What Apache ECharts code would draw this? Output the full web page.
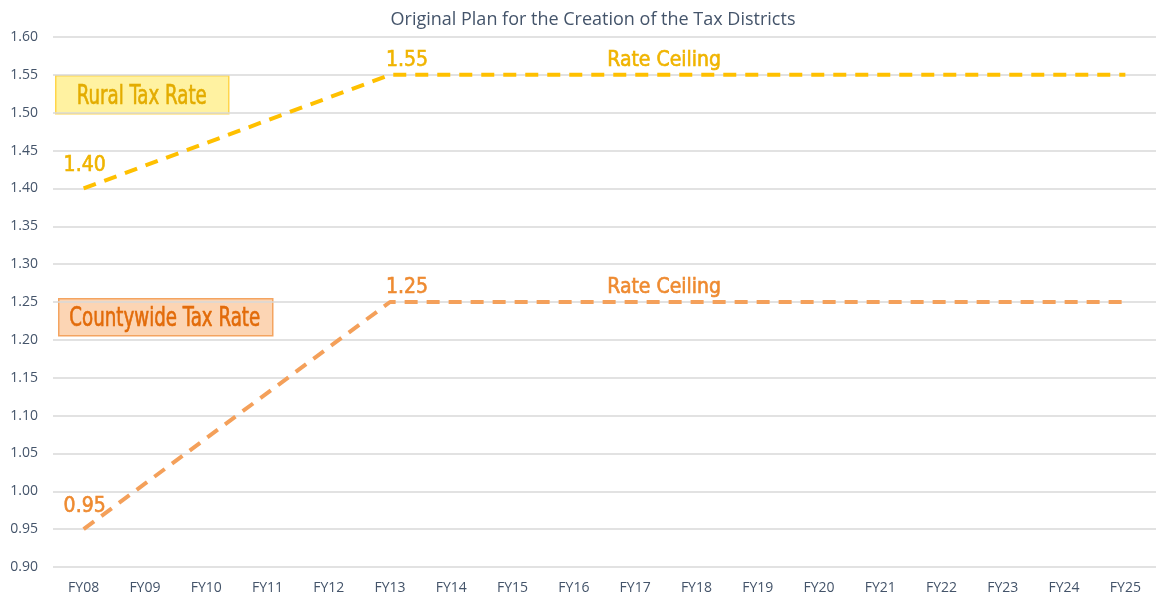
<!DOCTYPE html>
<html>
<head>
    <meta charset="utf-8">
    <title>Tax Districts</title>
    <script src="https://cdn.jsdelivr.net/npm/echarts@6/dist/echarts.min.js"></script>
</head>
<body style="margin:0;background:#fff;">
    <div id="main" style="width:1156px;height:597px;"></div>
    <script type="text/javascript">
        // categories + values
        var years = ['FY08','FY09','FY10','FY11','FY12','FY13','FY14','FY15','FY16','FY17','FY18','FY19','FY20','FY21','FY22','FY23','FY24','FY25'];
        var ruralRate = [1.40,1.43,1.46,1.49,1.52,1.55,1.55,1.55,1.55,1.55,1.55,1.55,1.55,1.55,1.55,1.55,1.55,1.55];
        var countyRate = [0.95,1.01,1.07,1.13,1.19,1.25,1.25,1.25,1.25,1.25,1.25,1.25,1.25,1.25,1.25,1.25,1.25,1.25];
        var ceilingIdx = 5;     // where rate reaches the ceiling
        var ceilingTextIdx = 9; // 'Rate Ceiling' text sits near here

        var narrow = '"Liberation Sans Narrow", "DejaVu Sans Condensed", "Roboto", sans-serif';

        // turn a values array into data items with a few labels switched on
        function withLabels(vals) {
            return vals.map(function (v, i) {
                var item = { value: v };
                if (i === 0) {
                    item.label = { show: true, position: 'top', distance: 12, offset: [1, 0] };
                } else if (i === ceilingIdx) {
                    item.label = { show: true, position: 'top', distance: 4, offset: [17, 0] };
                } else if (i === ceilingTextIdx) {
                    item.label = { show: true, position: 'top', distance: 4, offset: [29, 0], formatter: 'Rate Ceiling' };
                }
                return item;
            });
        }

        var myChart = echarts.init(document.getElementById('main'));

        var option = {
            backgroundColor: '#fff',
            animation: false,
            title: {
                text: 'Original Plan for the Creation of the Tax Districts',
                left: 588,
                textAlign: 'center',
                top: 6,
                textStyle: { color: '#44546A', fontSize: 18, fontWeight: 'normal', fontFamily: '"Open Sans", sans-serif' }
            },
            grid: { left: 53, top: 37, width: 1109, height: 530 },
            xAxis: {
                type: 'category',
                data: years,
                boundaryGap: true,
                axisLine: { show: false },
                axisTick: { show: false },
                axisLabel: { color: '#44546A', fontSize: 14, margin: 14, fontFamily: '"Open Sans", sans-serif' }
            },
            yAxis: {
                type: 'value',
                min: 0.90,
                max: 1.60,
                interval: 0.05,
                axisLabel: {
                    color: '#44546A', fontSize: 14, margin: 15, fontFamily: '"Open Sans", sans-serif',
                    formatter: function (v) { return v.toFixed(2); }
                },
                splitLine: { lineStyle: { color: '#D9D9D9', width: 1.5 } }
            },
            graphic: [
                {
                    type: 'group', left: 55, top: 75,
                    children: [
                        { type: 'rect', shape: { x: 0, y: 0, width: 173, height: 38 },
                          style: { fill: '#FFF2A1', stroke: '#FFD54A', lineWidth: 1.5 } },
                        { type: 'text', x: 86, y: 21, scaleX: 0.78,
                          style: { text: 'Rural Tax Rate', fill: '#E3AC00', font: '26px ' + narrow, align: 'center', verticalAlign: 'middle',
                                   stroke: '#E3AC00', lineWidth: 0.6 } }
                    ]
                },
                {
                    type: 'group', left: 58, top: 298,
                    children: [
                        { type: 'rect', shape: { x: 0, y: 0, width: 214, height: 37 },
                          style: { fill: '#FCD5B4', stroke: '#F4A460', lineWidth: 1.5 } },
                        { type: 'text', x: 106, y: 20, scaleX: 0.78,
                          style: { text: 'Countywide Tax Rate', fill: '#E26B0A', font: '26px ' + narrow, align: 'center', verticalAlign: 'middle',
                                   stroke: '#E26B0A', lineWidth: 0.6 } }
                    ]
                }
            ],
            series: [
                {
                    name: 'Rural Tax Rate',
                    type: 'line',
                    data: withLabels(ruralRate),
                    symbol: 'circle',
                    symbolSize: 0,
                    showSymbol: true,
                    lineStyle: { color: '#FFC000', width: 4, type: [13, 9] },
                    itemStyle: { color: '#FFC000' },
                    label: {
                        color: '#F0B400', fontSize: 21, fontFamily: narrow,
                        textBorderColor: '#F0B400', textBorderWidth: 0.6,
                        formatter: function (p) { return p.value.toFixed(2); }
                    }
                },
                {
                    name: 'Countywide Tax Rate',
                    type: 'line',
                    data: withLabels(countyRate),
                    symbol: 'circle',
                    symbolSize: 0,
                    showSymbol: true,
                    lineStyle: { color: '#F4A05A', width: 4, type: [13, 9] },
                    itemStyle: { color: '#F4A05A' },
                    label: {
                        color: '#EE8A30', fontSize: 21, fontFamily: narrow,
                        textBorderColor: '#EE8A30', textBorderWidth: 0.6,
                        formatter: function (p) { return p.value.toFixed(2); }
                    }
                }
            ]
        };

        myChart.setOption(option);
    </script>
</body>
</html>
